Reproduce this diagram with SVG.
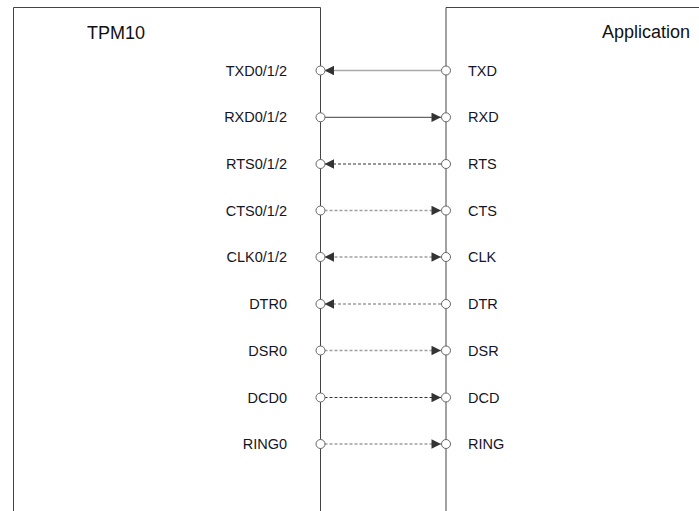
<svg xmlns="http://www.w3.org/2000/svg" width="699" height="511" viewBox="0 0 699 511">
<style>
.box{fill:none;stroke:#444;stroke-width:1}
.title{font-family:"Liberation Sans",Arial,sans-serif;font-size:18px;fill:#111}
.lab{font-family:"Liberation Sans",Arial,sans-serif;font-size:14.5px;fill:#151525}
.l{text-anchor:end}
.pin{fill:#fff;stroke:#666;stroke-width:1}
.solidL{stroke:#aaa;stroke-width:1.6;fill:none}
.solidD{stroke:#666;stroke-width:1.2;fill:none}
.dashD{stroke:#333;stroke-width:1.1;stroke-dasharray:3 2;fill:none}
.dashL{stroke:#a0a0a0;stroke-width:1.4;stroke-dasharray:3 2;fill:none}
</style>
<defs>
<marker id="ah" viewBox="0 0 10 10" refX="10" refY="5" markerWidth="10.5" markerHeight="9.5" markerUnits="userSpaceOnUse" orient="auto-start-reverse">
<path d="M0,0 L10,5 L0,10 z" fill="#333"/>
</marker>
</defs>
<g id="tpm10">
<path class="box" d="M13.5,511 V7.5 H320.5 V511"/>
<text class="title" x="87" y="39">TPM10</text>
<g class="lab l">
<text x="287" y="75.5">TXD0/1/2</text>
<text x="287" y="122">RXD0/1/2</text>
<text x="287" y="169">RTS0/1/2</text>
<text x="287" y="215.5">CTS0/1/2</text>
<text x="287" y="262">CLK0/1/2</text>
<text x="287" y="309">DTR0</text>
<text x="287" y="355.5">DSR0</text>
<text x="287" y="402.5">DCD0</text>
<text x="287" y="449">RING0</text>
</g>
</g>
<g id="application">
<path class="box" d="M446,511 V7.5 H700"/>
<text class="title" x="602" y="38">Application</text>
<g class="lab">
<text x="468" y="75.5">TXD</text>
<text x="468" y="122">RXD</text>
<text x="468" y="169">RTS</text>
<text x="468" y="215.5">CTS</text>
<text x="468" y="262">CLK</text>
<text x="468" y="309">DTR</text>
<text x="468" y="355.5">DSR</text>
<text x="468" y="402.5">DCD</text>
<text x="468" y="449">RING</text>
</g>
</g>
<g id="connectors">
<line class="solidL" x1="441" y1="70.5" x2="324.5" y2="70.5" marker-end="url(#ah)"/>
<line class="solidD" x1="324.5" y1="117.3" x2="441" y2="117.3" marker-end="url(#ah)"/>
<line class="dashD" x1="441" y1="164" x2="324.5" y2="164" marker-end="url(#ah)"/>
<line class="dashL" x1="324.5" y1="210.5" x2="441" y2="210.5" marker-end="url(#ah)"/>
<line class="dashL" x1="324.5" y1="257" x2="441" y2="257" marker-start="url(#ah)" marker-end="url(#ah)"/>
<line class="dashL" x1="441" y1="304" x2="324.5" y2="304" marker-end="url(#ah)"/>
<line class="dashL" x1="324.5" y1="350.5" x2="441" y2="350.5" marker-end="url(#ah)"/>
<line class="dashD" x1="324.5" y1="397.5" x2="441" y2="397.5" marker-end="url(#ah)"/>
<line class="dashL" x1="324.5" y1="444" x2="441" y2="444" marker-end="url(#ah)"/>
</g>
<g id="pins">
<circle class="pin" cx="320.5" cy="70.5" r="4.5"/><circle class="pin" cx="446" cy="70.5" r="4.5"/>
<circle class="pin" cx="320.5" cy="117.3" r="4.5"/><circle class="pin" cx="446" cy="117.3" r="4.5"/>
<circle class="pin" cx="320.5" cy="164" r="4.5"/><circle class="pin" cx="446" cy="164" r="4.5"/>
<circle class="pin" cx="320.5" cy="210.5" r="4.5"/><circle class="pin" cx="446" cy="210.5" r="4.5"/>
<circle class="pin" cx="320.5" cy="257" r="4.5"/><circle class="pin" cx="446" cy="257" r="4.5"/>
<circle class="pin" cx="320.5" cy="304" r="4.5"/><circle class="pin" cx="446" cy="304" r="4.5"/>
<circle class="pin" cx="320.5" cy="350.5" r="4.5"/><circle class="pin" cx="446" cy="350.5" r="4.5"/>
<circle class="pin" cx="320.5" cy="397.5" r="4.5"/><circle class="pin" cx="446" cy="397.5" r="4.5"/>
<circle class="pin" cx="320.5" cy="444" r="4.5"/><circle class="pin" cx="446" cy="444" r="4.5"/>
</g>
</svg>
